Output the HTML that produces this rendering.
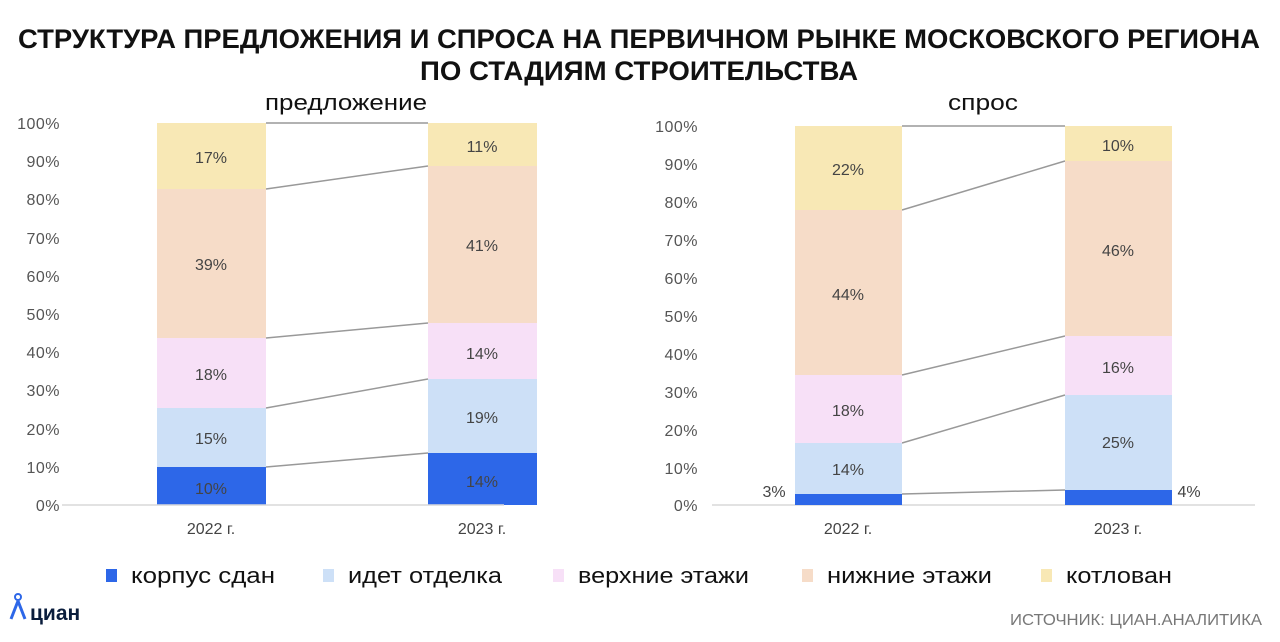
<!DOCTYPE html>
<html><head><meta charset="utf-8"><style>
body{margin:0;background:#fff;width:1280px;height:637px;overflow:hidden}
svg text{font-family:"Liberation Sans","DejaVu Sans",sans-serif}
</style></head><body>
<svg width="1280" height="637" viewBox="0 0 1280 637">
<text x="18" y="48" font-size="27" font-weight="bold" fill="#111" textLength="1242" lengthAdjust="spacingAndGlyphs">СТРУКТУРА ПРЕДЛОЖЕНИЯ И СПРОСА НА ПЕРВИЧНОМ РЫНКЕ МОСКОВСКОГО РЕГИОНА</text>
<text x="420" y="80" font-size="27" font-weight="bold" fill="#111" textLength="438" lengthAdjust="spacingAndGlyphs">ПО СТАДИЯМ СТРОИТЕЛЬСТВА</text>
<text x="265" y="110" font-size="22" fill="#111" textLength="162" lengthAdjust="spacingAndGlyphs">предложение</text>
<text x="948" y="110" font-size="22" fill="#111" textLength="70" lengthAdjust="spacingAndGlyphs">спрос</text>
<g font-size="16" fill="#555" text-anchor="end" letter-spacing="0.5">
<text x="60" y="129">100%</text><text x="60" y="167">90%</text><text x="60" y="205">80%</text><text x="60" y="244">70%</text><text x="60" y="282">60%</text><text x="60" y="320">50%</text><text x="60" y="358">40%</text><text x="60" y="396">30%</text><text x="60" y="435">20%</text><text x="60" y="473">10%</text><text x="60" y="511">0%</text>
<text x="698" y="132">100%</text><text x="698" y="170">90%</text><text x="698" y="208">80%</text><text x="698" y="246">70%</text><text x="698" y="284">60%</text><text x="698" y="322">50%</text><text x="698" y="360">40%</text><text x="698" y="398">30%</text><text x="698" y="436">20%</text><text x="698" y="474">10%</text><text x="698" y="511">0%</text>
</g>
<rect x="157" y="467" width="109" height="38" fill="#2d67e8"/>
<rect x="157" y="408" width="109" height="59" fill="#cde0f7"/>
<rect x="157" y="338" width="109" height="70" fill="#f7e0f7"/>
<rect x="157" y="189" width="109" height="149" fill="#f6dcc8"/>
<rect x="157" y="123" width="109" height="66" fill="#f8e8b5"/>
<rect x="428" y="453" width="109" height="52" fill="#2d67e8"/>
<rect x="428" y="379" width="109" height="74" fill="#cde0f7"/>
<rect x="428" y="323" width="109" height="56" fill="#f7e0f7"/>
<rect x="428" y="166" width="109" height="157" fill="#f6dcc8"/>
<rect x="428" y="123" width="109" height="43" fill="#f8e8b5"/>
<g stroke="#999" stroke-width="1.5">
<line x1="266" y1="467" x2="428" y2="453"/><line x1="266" y1="408" x2="428" y2="379"/><line x1="266" y1="338" x2="428" y2="323"/><line x1="266" y1="189" x2="428" y2="166"/><line x1="266" y1="123" x2="428" y2="123"/>
<line x1="902" y1="494" x2="1065" y2="490"/><line x1="902" y1="443" x2="1065" y2="395"/><line x1="902" y1="375" x2="1065" y2="336"/><line x1="902" y1="210" x2="1065" y2="161"/><line x1="902" y1="126" x2="1065" y2="126"/>
</g>
<line x1="62" y1="505" x2="504" y2="505" stroke="#d9d9d9" stroke-width="1.5"/>
<line x1="712" y1="505" x2="1255" y2="505" stroke="#d9d9d9" stroke-width="1.5"/>
<rect x="795" y="494" width="107" height="11" fill="#2d67e8"/>
<rect x="795" y="443" width="107" height="51" fill="#cde0f7"/>
<rect x="795" y="375" width="107" height="68" fill="#f7e0f7"/>
<rect x="795" y="210" width="107" height="165" fill="#f6dcc8"/>
<rect x="795" y="126" width="107" height="84" fill="#f8e8b5"/>
<rect x="1065" y="490" width="107" height="15" fill="#2d67e8"/>
<rect x="1065" y="395" width="107" height="95" fill="#cde0f7"/>
<rect x="1065" y="336" width="107" height="59" fill="#f7e0f7"/>
<rect x="1065" y="161" width="107" height="175" fill="#f6dcc8"/>
<rect x="1065" y="126" width="107" height="35" fill="#f8e8b5"/>
<g font-size="16" fill="#444" text-anchor="middle">
<text x="211" y="494">10%</text><text x="211" y="444">15%</text><text x="211" y="380">18%</text><text x="211" y="270">39%</text><text x="211" y="163">17%</text>
<text x="482" y="487">14%</text><text x="482" y="423">19%</text><text x="482" y="359">14%</text><text x="482" y="251">41%</text><text x="482" y="152">11%</text>
<text x="774" y="497">3%</text><text x="848" y="475">14%</text><text x="848" y="416">18%</text><text x="848" y="300">44%</text><text x="848" y="175">22%</text>
<text x="1189" y="497">4%</text><text x="1118" y="448">25%</text><text x="1118" y="373">16%</text><text x="1118" y="256">46%</text><text x="1118" y="151">10%</text>
<text x="211" y="534">2022 г.</text><text x="482" y="534">2023 г.</text>
<text x="848" y="534">2022 г.</text><text x="1118" y="534">2023 г.</text>
</g>
<g font-size="22" fill="#111">
<rect x="106" y="569" width="11" height="13" fill="#2d67e8"/><text x="131" y="583" textLength="144" lengthAdjust="spacingAndGlyphs">корпус сдан</text>
<rect x="323" y="569" width="11" height="13" fill="#cde0f7"/><text x="348" y="583" textLength="154" lengthAdjust="spacingAndGlyphs">идет отделка</text>
<rect x="553" y="569" width="11" height="13" fill="#f7e0f7"/><text x="578" y="583" textLength="171" lengthAdjust="spacingAndGlyphs">верхние этажи</text>
<rect x="802" y="569" width="11" height="13" fill="#f6dcc8"/><text x="827" y="583" textLength="165" lengthAdjust="spacingAndGlyphs">нижние этажи</text>
<rect x="1041" y="569" width="11" height="13" fill="#f8e8b5"/><text x="1066" y="583" textLength="106" lengthAdjust="spacingAndGlyphs">котлован</text>
</g>
<circle cx="18" cy="597" r="3" fill="none" stroke="#2d67e8" stroke-width="2"/>
<path d="M18 601 L11 619 M18 601 L25 619" stroke="#2d67e8" stroke-width="3" fill="none"/>
<text x="30" y="620" font-size="21" font-weight="bold" fill="#0a1d3c">циан</text>
<text x="1010" y="625" font-size="16" fill="#777" textLength="252" lengthAdjust="spacingAndGlyphs">ИСТОЧНИК: ЦИАН.АНАЛИТИКА</text>
</svg>
</body></html>
